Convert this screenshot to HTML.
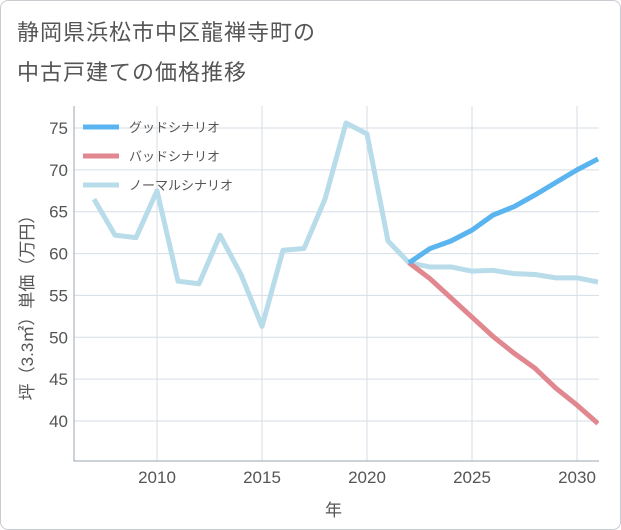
<!DOCTYPE html>
<html><head><meta charset="utf-8">
<style>
body{margin:0;background:#fff;}
#card{position:absolute;left:0;top:0;width:619px;height:528px;border:1px solid #c8ccd0;border-radius:8px;background:#fff;overflow:hidden;}
.title{position:absolute;left:16px;font-family:"Liberation Sans","Noto Sans CJK JP",sans-serif;font-size:22px;color:#555;letter-spacing:1px;}
svg text{font-family:"Liberation Sans","Noto Sans CJK JP",sans-serif;}
</style></head><body>
<div id="card">
<div class="title" style="top:14px">静岡県浜松市中区龍禅寺町の</div>
<div class="title" style="top:54px">中古戸建ての価格推移</div>
<svg id="chart" width="621" height="530" style="position:absolute;left:0;top:0"></svg>
</div>
<script>
const years=[2007,2008,2009,2010,2011,2012,2013,2014,2015,2016,2017,2018,2019,2020,2021,2022,2023,2024,2025,2026,2027,2028,2029,2030,2031];
const normalValues=[66.5,62.2,61.9,67.5,56.7,56.4,62.2,57.5,51.3,60.4,60.6,66.5,75.6,74.3,61.5,58.9,58.4,58.4,57.9,58.0,57.6,57.5,57.1,57.1,56.6];
const futureYears=[2022,2023,2024,2025,2026,2027,2028,2029,2030,2031];
const goodValues=[58.9,60.6,61.5,62.8,64.6,65.6,67.0,68.5,70.0,71.3];
const badValues=[58.9,57.0,54.7,52.4,50.1,48.1,46.3,43.9,41.9,39.7];
const yTicks=[40,45,50,55,60,65,70,75];
const xTicks=[2010,2015,2020,2025,2030];
const legendLabels=["グッドシナリオ","バッドシナリオ","ノーマルシナリオ"];

const svg=document.getElementById('chart');
const NS='http://www.w3.org/2000/svg';
const L=73,R=598,T=105,B=460;
const xs=y=>156+(y-2010)*21;
const ys=v=>127+(75-v)*(293/35);
function mk(tag,attrs,parent){const e=document.createElementNS(NS,tag);for(const k in attrs)e.setAttribute(k,attrs[k]);(parent||svg).appendChild(e);return e;}
const defs=mk('defs',{});const cp=mk('clipPath',{id:'clip'},defs);mk('rect',{x:L,y:T,width:R-L,height:B-T},cp);
yTicks.forEach(v=>{
 const g=mk('line',{x1:L,x2:R,y1:ys(v),y2:ys(v),stroke:'#d5dee6','stroke-width':1});
 
 
 const t=mk('text',{x:L-6,y:ys(v)+6,'text-anchor':'end','font-size':17,fill:'#555'});t.textContent=v;
 
 
});
xTicks.forEach(v=>{
 const g=mk('line',{x1:xs(v),x2:xs(v),y1:T,y2:B,stroke:'#d5dee6','stroke-width':1});
 
 
 const t=mk('text',{x:xs(v),y:B+22,'text-anchor':'middle','font-size':17,fill:'#555'});t.textContent=v;
 
 
});
const ax=mk('path',{d:`M${L},${T} V${B} H${R}`,stroke:'#9aa5b0',fill:'none','stroke-width':1});


function line(xv,yv,color,name){
 const d=xv.map((x,i)=>(i?'L':'M')+xs(x)+','+ys(yv[i])).join(' ');
 const p=mk('path',{d:d,stroke:color,'stroke-width':5,fill:'none','stroke-linejoin':'round','clip-path':'url(#clip)'});
 
 
}
line(years,normalValues,'#b8dcea','normal-scenario-line');
line(futureYears,badValues,'#e0878f','bad-scenario-line');
line(futureYears,goodValues,'#5ab4f0','good-scenario-line');
const colors=['#5ab4f0','#e0878f','#b8dcea'];
legendLabels.forEach((lab,i)=>{
 const y=126+i*29;
 const l=mk('line',{x1:82,x2:118,y1:y,y2:y,stroke:colors[i],'stroke-width':5});
 
 
 const t=mk('text',{x:128,y:y+5,'font-size':13,fill:'#555'});t.textContent=lab;
 
 
});
const yt=mk('text',{x:0,y:0,'font-size':17,fill:'#555','text-anchor':'middle',transform:`translate(32,${(T+B)/2+20}) rotate(-90)`});
yt.textContent='坪（3.3㎡）単価（万円）';


const xt=mk('text',{x:(L+R)/2-3,y:515,'font-size':17,fill:'#555','text-anchor':'middle'});
xt.textContent='年';


</script>
</body></html>
